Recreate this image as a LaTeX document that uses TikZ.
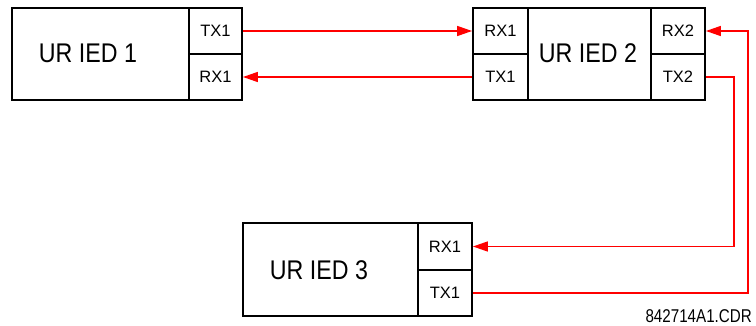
\documentclass[tikz,border=0pt]{standalone}
\usepackage{fontspec}
\usepackage{graphicx}
\setmainfont{Liberation Sans}
\usetikzlibrary{arrows.meta}
\begin{document}
\begin{tikzpicture}[x=1pt,y=-1pt,
  port/.style={draw=black,line width=1.8pt,minimum width=53pt,minimum height=46pt,inner sep=0pt,font=\fontsize{16.5}{16.5}\selectfont},
  big/.style={inner sep=0pt,font=\fontsize{27}{27}\selectfont},
  link/.style={draw=red,line width=1.5pt},
  arr/.style={link,-{Triangle[length=15pt,width=10pt]}}
]
\useasboundingbox (0,0) rectangle (756,326);
% IED 1
\node[draw=black,line width=1.8pt,minimum width=177pt,minimum height=92pt,inner sep=0pt] (b1) at (100.5,54) {};
\node[big] (t1) at (88,53) {\scalebox{0.86}[1]{UR IED 1}};
\node[port] (i1tx) at (215.5,31) {TX1};
\node[port] (i1rx) at (215.5,77) {RX1};
% IED 2
\node[draw=black,line width=1.8pt,minimum width=123pt,minimum height=92pt,inner sep=0pt] (b2) at (589.5,54) {};
\node[big] (t2) at (588,53) {\scalebox{0.86}[1]{UR IED 2}};
\node[port,minimum width=55pt] (i2rx1) at (500.5,31) {RX1};
\node[port,minimum width=55pt] (i2tx1) at (500.5,77) {TX1};
\node[port,minimum width=54pt] (i2rx2) at (678,31) {RX2};
\node[port,minimum width=54pt] (i2tx2) at (678,77) {TX2};
% IED 3
\node[draw=black,line width=1.8pt,minimum width=175pt,minimum height=93pt,inner sep=0pt] (b3) at (330.5,269.5) {};
\node[big] (t3) at (319,270) {\scalebox{0.86}[1]{UR IED 3}};
\node[port,minimum width=54pt,minimum height=47pt] (i3rx) at (445,246.5) {RX1};
\node[port,minimum width=54pt,minimum height=46pt] (i3tx) at (445,293) {TX1};
% links
\draw[arr] (i1tx.east) -- (i2rx1.west);
\draw[arr] (i2tx1.west) -- (i1rx.east);
\draw[arr] (i2tx2.east) -- ++(28,0) |- (i3rx.east);
\draw[arr] (i3tx.east) -- ++(275,0) |- (i2rx2.east);
% footer
\node[anchor=base east,inner sep=0pt,font=\fontsize{18.5}{18.5}\selectfont] (ft) at (752,322) {\scalebox{0.82}[1]{842714A1.CDR}};
\end{tikzpicture}
\end{document}
